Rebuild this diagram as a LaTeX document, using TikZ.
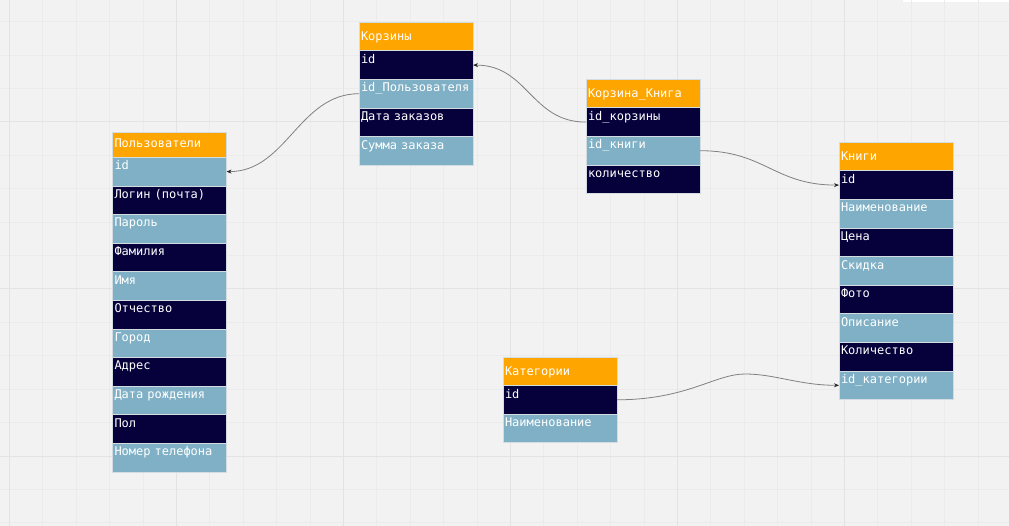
\documentclass[tikz,border=0pt]{standalone}
\usepackage{fontspec}
\usepackage{tikz}
\usetikzlibrary{positioning,arrows.meta}
\newfontfamily\tabfont{DejaVu Sans Mono}
\definecolor{boardbg}{HTML}{F2F2F2}
\definecolor{gridmin}{HTML}{EBEBEB}
\definecolor{gridmaj}{HTML}{E3E3E3}
\definecolor{hdrorange}{HTML}{FFA500}
\definecolor{rowdark}{HTML}{06013B}
\definecolor{rowlight}{HTML}{7FB0C6}
\definecolor{cellline}{HTML}{D3DCE0}
\definecolor{linkgray}{HTML}{808080}
\tikzset{
    cell/.style     = {shape=rectangle, draw=cellline, line width=0.6pt,
        anchor=north west, outer sep=0pt, inner xsep=2pt, inner ysep=0pt,
        text width=110pt, align=left, text=white,
        font=\tabfont\fontsize{12}{14}\selectfont},
    tblhead/.style  = {cell, fill=hdrorange, minimum height=28.5pt,
        text height=18.5pt, text depth=10pt},
    tbldark/.style  = {cell, fill=rowdark, minimum height=28.6pt,
        text height=12.5pt, text depth=16.1pt},
    tbllight/.style = {tbldark, fill=rowlight},
    relation/.style = {draw=linkgray, line width=0.8pt,
        -{Stealth[length=5pt, width=4pt, color=black!85]}},
    gridminor/.style = {draw=gridmin, line width=1pt},
    gridmajor/.style = {draw=gridmaj, line width=1pt}
}

\begin{document}
\begin{tikzpicture}[x=1pt, y=-1pt]
    % board
    \useasboundingbox (0,0) rectangle (1009,526);
    \fill[boardbg] (0,0) rectangle (1009,526);
    \fill[white] (903,0) rectangle (1009,2.5);
    \foreach \gx in {0,...,29}
        \draw[gridminor] ({9.5+33.4*\gx},0) -- ++(0,526);
    \foreach \gy in {0,...,15}
        \draw[gridminor] (0,{21.8+33.4*\gy}) -- ++(1009,0);
    \foreach \gx in {9.5,176.5,343.5,510.5,677.5,844.5}
        \draw[gridmajor] (\gx,0) -- ++(0,526);
    \foreach \gy in {122,289,456}
        \draw[gridmajor] (0,\gy) -- ++(1009,0);

    % Пользователи
    \node[tblhead, minimum height=25pt, text height=15pt] (users) at (112.5,132.3) {Пользователи};
    \node[tbllight, below=0pt of users]   (users-id)    {id};
    \node[tbldark,  below=0pt of users-id]    (users-login) {Логин (почта)};
    \node[tbllight, below=0pt of users-login] (users-pass)  {Пароль};
    \node[tbldark,  below=0pt of users-pass]  (users-fam)   {Фамилия};
    \node[tbllight, below=0pt of users-fam]   (users-name)  {Имя};
    \node[tbldark,  below=0pt of users-name]  (users-otch)  {Отчество};
    \node[tbllight, below=0pt of users-otch]  (users-city)  {Город};
    \node[tbldark,  below=0pt of users-city]  (users-addr)  {Адрес};
    \node[tbllight, below=0pt of users-addr]  (users-birth) {Дата рождения};
    \node[tbldark,  below=0pt of users-birth] (users-sex)   {Пол};
    \node[tbllight, below=0pt of users-sex]   (users-phone) {Номер телефона};

    % Корзины
    \node[tblhead] (carts) at (359,22.3) {Корзины};
    \node[tbldark,  below=0pt of carts]      (carts-id)   {id};
    \node[tbllight, below=0pt of carts-id]   (carts-user) {id\_Пользователя};
    \node[tbldark,  below=0pt of carts-user] (carts-date) {Дата заказов};
    \node[tbllight, below=0pt of carts-date] (carts-sum)  {Сумма заказа};

    % Корзина_Книга
    \node[tblhead] (cb) at (586,79.3) {Корзина\_Книга};
    \node[tbldark,  below=0pt of cb]      (cb-cart) {id\_корзины};
    \node[tbllight, below=0pt of cb-cart] (cb-book) {id\_книги};
    \node[tbldark,  below=0pt of cb-book] (cb-qty)  {количество};

    % Книги
    \node[tblhead] (books) at (839,142.3) {Книги};
    \node[tbldark,  below=0pt of books]       (books-id)    {id};
    \node[tbllight, below=0pt of books-id]    (books-title) {Наименование};
    \node[tbldark,  below=0pt of books-title] (books-price) {Цена};
    \node[tbllight, below=0pt of books-price] (books-disc)  {Скидка};
    \node[tbldark,  below=0pt of books-disc]  (books-photo) {Фото};
    \node[tbllight, below=0pt of books-photo] (books-descr) {Описание};
    \node[tbldark,  below=0pt of books-descr] (books-qty)   {Количество};
    \node[tbllight, below=0pt of books-qty]   (books-cat)   {id\_категории};

    % Категории
    \node[tblhead] (cats) at (503,357) {Категории};
    \node[tbldark,  below=0pt of cats]    (cats-id)    {id};
    \node[tbllight, below=0pt of cats-id] (cats-title) {Наименование};

    % связи
    \draw[relation] (carts-user.west) .. controls +(-60,0) and +(60,0) .. (users-id.east);
    \draw[relation] (cb-cart.west) .. controls +(-55,0) and +(55,0) .. (carts-id.east);
    \draw[relation] (cb-book.east) .. controls +(65,0) and +(-65,0) .. (books-id.west);
    \coordinate (catbend) at (745,374);
    \draw[relation] (cats-id.east) .. controls +(70,0) and +(-30,0) .. (catbend)
        .. controls +(30,0) and +(-40,0) .. (books-cat.west);
\end{tikzpicture}
\end{document}
